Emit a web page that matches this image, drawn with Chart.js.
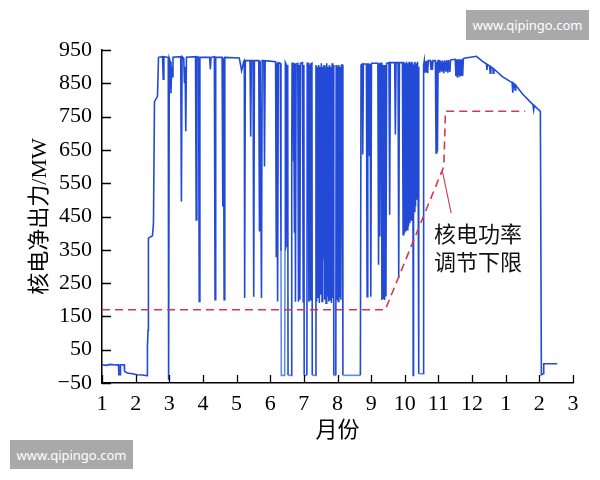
<!DOCTYPE html>
<html>
<head>
<meta charset="utf-8">
<script src="https://cdn.jsdelivr.net/npm/chart.js@4.4.1/dist/chart.umd.min.js"></script>
<style>
  html, body { margin: 0; padding: 0; background: #fff; }
  #wrap { position: relative; width: 600px; height: 480px; overflow: hidden; }
  #c { position: absolute; left: 0; top: 0; }
  .wm { position: absolute; background: #a9a9a9; color: #fff; font-family: "Noto Sans", "Open Sans", sans-serif;
        font-size: 13px; display: flex; align-items: center; justify-content: center; }
  #note { position: absolute; left: 434px; top: 218px; font-family: "Noto Sans CJK SC", sans-serif;
          font-size: 22px; line-height: 28px; color: #111; white-space: nowrap; }
</style>
</head>
<body>
<div id="wrap">
  <canvas id="c" width="600" height="480" style="width:600px;height:480px"></canvas>
  <div id="note">核电功率<br>调节下限</div>
  <div class="wm" style="left:466px;top:10px;width:123px;height:30px;">www.qipingo.com</div>
  <div class="wm" style="left:10px;top:440px;width:123px;height:29px;">www.qipingo.com</div>
</div>
<script>
// ---- data: [month position, net output MW] (months 13-15 = next Jan-Mar) ----
const janFeb = [
  [1.00,5],[1.12,3],[1.25,6],[1.40,4],[1.49,5],[1.50,-25],[1.54,-25],[1.55,5],[1.66,5],[1.67,-15],
  [1.75,-20],[1.90,-22],[2.05,-25],[2.20,-26],[2.34,-28],[2.35,60],[2.37,110],[2.38,385],[2.50,392],
  [2.53,430],[2.56,795],[2.65,811],[2.68,928]
];
const marJun = [
  [2.80,930],[2.82,862],[2.84,930],
  [2.97,928],[2.98,-40],[3.00,925],
  [3.03,915],[3.05,820],[3.07,900],[3.09,870],[3.11,928],
  [3.34,930],[3.36,495],[3.38,930],
  [3.43,925],[3.45,850],[3.47,900],[3.49,706],[3.51,928],
  [3.78,930],[3.80,440],[3.82,930],
  [3.87,928],[3.89,195],[3.91,928],
  [4.20,928],[4.22,892],[4.24,928],
  [4.34,930],[4.36,200],[4.38,928],
  [4.57,928],[4.59,480],[4.61,925],[4.63,200],[4.65,928],
  [5.08,926],[5.12,905],[5.15,888],[5.18,900],[5.21,915],
  [5.23,918],[5.24,205],[5.26,918],
  [5.40,918],[5.42,690],[5.44,918],
  [5.49,918],[5.51,209],[5.53,918],
  [5.66,918],[5.68,405],[5.70,918],
  [5.72,918],[5.74,205],[5.76,918],
  [5.81,918],[5.83,600],[5.85,918],
  [6.16,915],[6.18,330],[6.20,912],[6.22,195],[6.24,912]
];
const julAug = [
  [6.30,910],[6.32,345],[6.33,-27],[6.43,-27],[6.44,350],[6.45,912],
  [6.48,905],[6.50,360],[6.52,905],[6.53,-27],[6.63,-27],[6.64,600],[6.65,910],
  [6.68,910],[6.69,616],[6.70,905],[6.72,401],[6.74,910],[6.75,194],[6.77,908],
  [6.82,910],[6.84,194],[6.86,905],[6.88,200],[6.90,910],
  [6.96,912],[6.98,194],[7.00,905],[7.01,-27],[7.09,-27],[7.10,910],
  [7.13,910],[7.15,194],[7.17,905],[7.19,200],[7.21,908],
  [7.24,910],[7.25,-27],[7.35,-27],[7.36,905],
  [7.38,195],[7.40,900],[7.42,205],[7.44,905],[7.46,190],[7.48,900],[7.50,215],[7.52,910],
  [7.54,195],[7.56,900],[7.58,320],[7.60,905],[7.62,200],[7.64,900],[7.66,190],[7.68,910],
  [7.70,210],[7.72,900],[7.74,195],[7.76,905],[7.78,200],[7.80,900],[7.82,190],[7.84,910],
  [7.86,205],[7.88,905],
  [7.89,-27],[7.95,-27],[7.96,905],
  [7.98,200],[8.00,900],[8.02,195],[8.04,905],[8.06,208],[8.08,900],[8.10,200],[8.12,905],
  [8.15,905],[8.16,-27],[8.68,-27],[8.70,905]
];
const sepNov = [
  [8.74,908],[8.75,636],[8.77,908],
  [8.86,908],[8.88,209],[8.90,908],
  [8.93,908],[8.95,631],[8.97,908],[8.99,209],[9.01,910],
  [9.20,910],[9.22,305],[9.24,910],[9.26,390],[9.28,910],
  [9.31,910],[9.32,199],[9.34,905],[9.36,205],[9.38,905],[9.40,199],[9.42,905],[9.44,210],[9.46,910],
  [9.53,912],[9.55,455],[9.57,912],
  [9.70,912],[9.72,696],[9.74,912],
  [9.80,912],[9.82,265],[9.84,912],
  [9.93,912],[9.95,395],[9.97,915],[9.99,400],[10.01,910],[10.03,405],[10.05,915],[10.07,410],
  [10.09,910],[10.11,420],[10.13,915],[10.15,430],[10.17,910],[10.19,440],[10.21,915],[10.23,450],
  [10.24,910],[10.25,-27],[10.26,905],[10.28,465],[10.30,915],[10.32,480],[10.34,910],[10.36,500],
  [10.38,915],[10.40,505],[10.41,900],[10.42,-22],[10.55,-22],[10.56,905],
  [10.58,918],[10.60,882],[10.62,915],[10.64,885],[10.66,918],[10.68,880],[10.70,918],
  [10.76,918],[10.78,892],[10.80,918],[10.82,890],[10.84,918],
  [10.91,918],[10.93,641],[10.95,915],[10.97,645],[10.99,918],
  [11.02,918],[11.04,882],[11.06,918],[11.10,885],[11.12,918],[11.16,880],[11.18,918],
  [11.22,885],[11.24,920],[11.28,882],[11.30,920],[11.34,884],[11.36,920],
  [11.50,922],[11.52,872],[11.54,922],[11.56,870],[11.58,922],[11.60,875],[11.62,922],
  [11.64,870],[11.66,922],[11.68,875],[11.70,922],[11.72,872],[11.74,924]
];
const decFeb = [
  [11.80,926],[12.00,929],[12.13,931],[12.32,915],[12.43,908],[12.44,890],[12.46,906],
  [12.52,902],[12.54,880],[12.56,900],[12.62,895],[12.63,880],[12.65,893],[12.90,870],
  [13.19,852],[13.21,822],[13.23,850],[13.26,846],[13.28,830],[13.30,844],[13.50,818],
  [13.81,786],[13.83,770],[13.85,783],[13.95,773],[14.03,766],[14.06,-25],[14.12,-22],
  [14.13,8],[14.53,8]
];
// lower limit of nuclear power regulation (red dashed)
const limitMonth = [1.00, 9.42, 11.16, 11.21, 13.58];
const limitMW    = [170, 170, 600, 766, 766];
// annotation leader line
const leaderMonth = [11.12, 11.38];
const leaderMW    = [585, 460];
// axis tick labels
const yTicks = [-50, 50, 150, 250, 350, 450, 550, 650, 750, 850, 950];
const xTickLabels = ['1','2','3','4','5','6','7','8','9','10','11','12','1','2','3'];

const netSeries = [].concat(janFeb, marJun, julAug, sepNov, decFeb).map(p => ({x: p[0], y: p[1]}));
const limitSeries = limitMonth.map((m, i) => ({x: m, y: limitMW[i]}));
const leaderSeries = leaderMonth.map((m, i) => ({x: m, y: leaderMW[i]}));

const serif = "'Liberation Serif', 'DejaVu Serif', 'Times New Roman', 'Noto Sans CJK SC', serif";
const blueDark = 'rgb(34,74,214)';
const blueLight = 'rgb(96,140,228)';

// lighter rendering of the zero-output outage boxes (as in the source image)
function segColor(ctx) {
  const a = ctx.p0.parsed, b = ctx.p1.parsed;
  const low = a.y < 400 && b.y < 400 && (a.y < 0 || b.y < 0);
  const inBox = (a.x >= 6.3 && b.x <= 8.71) || (a.x >= 10.40 && b.x <= 10.57);
  return low && inBox ? blueLight : blueDark;
}

const inwardTicks = {
  id: 'inwardTicks',
  afterDraw(chart) {
    const {ctx, chartArea} = chart;
    const xs = chart.scales.x, ys = chart.scales.y;
    ctx.save();
    ctx.strokeStyle = '#000';
    ctx.lineWidth = 1.3;
    ctx.beginPath();
    xs.ticks.forEach(t => {
      const px = Math.round(xs.getPixelForValue(t.value)) + 0.5;
      ctx.moveTo(px, chartArea.bottom);
      ctx.lineTo(px, chartArea.bottom - 8);
    });
    ys.ticks.forEach(t => {
      const py = Math.round(ys.getPixelForValue(t.value)) + 0.5;
      ctx.moveTo(chartArea.left, py);
      ctx.lineTo(chartArea.left + 9, py);
    });
    ctx.stroke();
    ctx.restore();
  }
};

new Chart(document.getElementById('c'), {
  type: 'line',
  data: {
    datasets: [
      { data: limitSeries, borderColor: '#d23a50', borderWidth: 1.6, borderDash: [8, 5],
        pointRadius: 0, fill: false, order: 1 },
      { data: leaderSeries, borderColor: '#c8404e', borderWidth: 1.1,
        pointRadius: 0, fill: false, order: 1 },
      { data: netSeries, borderColor: blueDark, borderWidth: 1.6,
        segment: { borderColor: segColor },
        pointRadius: 0, fill: false, order: 2 }
    ]
  },
  options: {
    responsive: false,
    animation: false,
    layout: { padding: { left: 0, top: 50, right: 27, bottom: 27 } },
    elements: { line: { tension: 0 } },
    plugins: { legend: { display: false }, tooltip: { enabled: false } },
    scales: {
      x: {
        type: 'linear', min: 1, max: 15,
        afterFit(s) { s.height = 70; },
        grid: { display: true, drawOnChartArea: false, drawTicks: false },
        border: { display: true, color: '#000', width: 1.5 },
        ticks: {
          stepSize: 1, autoSkip: false, maxRotation: 0, padding: 8, color: '#000',
          font: { family: serif, size: 22 },
          callback: (v) => xTickLabels[Math.round(v) - 1]
        },
        title: { display: true, text: '月份', color: '#000',
                 font: { family: serif, size: 22 }, padding: { top: 0, bottom: 9 } }
      },
      y: {
        type: 'linear', min: -50, max: 950,
        afterFit(s) { s.width = 102; },
        afterBuildTicks(s) { s.ticks = yTicks.map(v => ({value: v})); },
        grid: { display: true, drawOnChartArea: false, drawTicks: false },
        border: { display: true, color: '#000', width: 1.5 },
        ticks: { padding: 10, color: '#000', font: { family: serif, size: 22 },
                 callback: (v) => (v < 0 ? '\u2212' + Math.abs(v) : String(v)) },
        title: { display: true, text: '核电净出力/MW', color: '#000',
                 font: { family: serif, size: 22 }, padding: { top: 27, bottom: 0 } }
      }
    }
  },
  plugins: [inwardTicks]
});
</script>
</body>
</html>
